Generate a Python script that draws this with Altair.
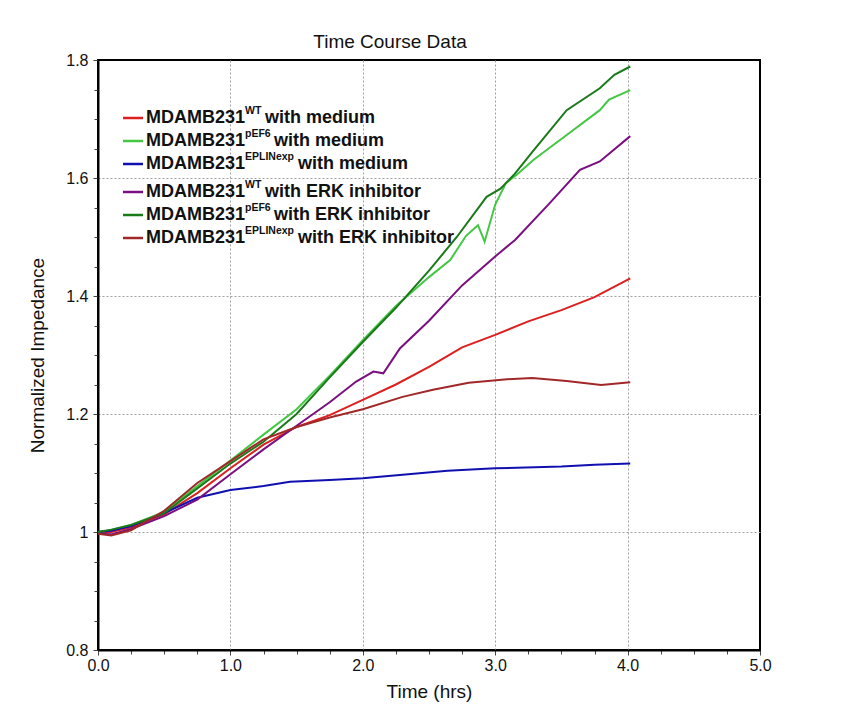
import altair as alt
import pandas as pd

# ---------------- data ----------------
series_names = [
    "MDAMB231 WT with medium",
    "MDAMB231 pEF6 with medium",
    "MDAMB231 EPLINexp with medium",
    "MDAMB231 WT with ERK inhibitor",
    "MDAMB231 pEF6 with ERK inhibitor",
    "MDAMB231 EPLINexp with ERK inhibitor",
]
series_colors = ["#dd1f1f", "#44c744", "#1010b0", "#7a1080", "#1a7a1a", "#a02828"]

t_wt_med = [0, 0.1, 0.25, 0.5, 0.75, 1.0, 1.25, 1.5, 1.75, 2.0, 2.25, 2.5, 2.75, 3.0, 3.25, 3.5, 3.75, 4.02]
v_wt_med = [1.0, 1.0, 1.008, 1.03, 1.066, 1.108, 1.148, 1.178, 1.198, 1.224, 1.25, 1.28, 1.313, 1.334, 1.357, 1.376, 1.398, 1.430]

t_pef_med = [0, 0.1, 0.25, 0.5, 0.75, 1.0, 1.25, 1.5, 1.75, 2.0, 2.25, 2.5, 2.66, 2.78, 2.87, 2.92, 3.0, 3.08, 3.16, 3.29, 3.54, 3.79, 3.86, 4.02]
v_pef_med = [1.0, 1.003, 1.012, 1.034, 1.078, 1.121, 1.165, 1.208, 1.265, 1.325, 1.383, 1.432, 1.461, 1.502, 1.520, 1.492, 1.555, 1.591, 1.605, 1.631, 1.673, 1.715, 1.733, 1.749]

t_epl_med = [0, 0.1, 0.25, 0.5, 0.75, 1.0, 1.25, 1.45, 1.75, 2.0, 2.3, 2.64, 3.0, 3.5, 3.75, 4.02]
v_epl_med = [1.0, 1.002, 1.010, 1.032, 1.058, 1.071, 1.078, 1.085, 1.088, 1.091, 1.097, 1.104, 1.108, 1.111, 1.114, 1.116]

t_wt_erk = [0, 0.1, 0.25, 0.5, 0.75, 1.0, 1.25, 1.5, 1.75, 1.95, 2.08, 2.155, 2.28, 2.5, 2.75, 3.0, 3.15, 3.41, 3.64, 3.79, 4.02]
v_wt_erk = [0.997, 0.996, 1.005, 1.027, 1.055, 1.098, 1.140, 1.180, 1.220, 1.255, 1.272, 1.269, 1.311, 1.358, 1.418, 1.467, 1.495, 1.557, 1.614, 1.628, 1.671]

t_pef_erk = [0, 0.1, 0.25, 0.5, 0.75, 1.0, 1.25, 1.5, 1.75, 2.0, 2.25, 2.5, 2.71, 2.935, 3.04, 3.14, 3.29, 3.54, 3.79, 3.9, 4.02]
v_pef_erk = [1.0, 1.004, 1.012, 1.032, 1.074, 1.116, 1.153, 1.200, 1.262, 1.322, 1.380, 1.443, 1.500, 1.568, 1.582, 1.605, 1.647, 1.715, 1.752, 1.775, 1.789]

t_epl_erk = [0, 0.1, 0.25, 0.5, 0.75, 1.0, 1.25, 1.5, 1.75, 2.0, 2.3, 2.53, 2.8, 3.09, 3.28, 3.54, 3.80, 4.02]
v_epl_erk = [0.997, 0.994, 1.003, 1.036, 1.083, 1.120, 1.157, 1.178, 1.194, 1.208, 1.229, 1.241, 1.253, 1.259, 1.261, 1.256, 1.249, 1.254]

x_tick_values = [0, 0.25, 0.5, 0.75, 1, 1.25, 1.5, 1.75, 2, 2.25, 2.5, 2.75, 3, 3.25, 3.5, 3.75, 4, 4.25, 4.5, 4.75, 5]
y_tick_values = [0.8, 0.85, 0.9, 0.95, 1.0, 1.05, 1.1, 1.15, 1.2, 1.25, 1.3, 1.35, 1.4, 1.45, 1.5,
                 1.55, 1.6, 1.65, 1.7, 1.75, 1.8]

legend_base = ["MDAMB231"] * 6
legend_sup = ["WT", "pEF6", "EPLINexp", "WT", "pEF6", "EPLINexp"]
legend_rest = ["with medium"] * 3 + ["with ERK inhibitor"] * 3

# ---------------- build tables ----------------
all_t = [t_wt_med, t_pef_med, t_epl_med, t_wt_erk, t_pef_erk, t_epl_erk]
all_v = [v_wt_med, v_pef_med, v_epl_med, v_wt_erk, v_pef_erk, v_epl_erk]
rows = []
for name, ts, vs in zip(series_names, all_t, all_v):
    for t, v in zip(ts, vs):
        rows.append({"series": name, "t": t, "v": v})
df = pd.DataFrame(rows)

# legend layout (pixel positions inside the plot area)
leg_row_y = [58, 81, 104, 132, 155, 178]
rest_x = {"WT": 167, "pEF6": 176, "EPLINexp": 200}
leg = pd.DataFrame({
    "series": series_names,
    "base": legend_base,
    "sup": legend_sup,
    "rest": legend_rest,
    "ly": leg_row_y,
})
leg["lx0"] = 25
leg["lx1"] = 45
leg["bx"] = 48
leg["sx"] = 147
leg["rx"] = [rest_x[s] for s in legend_sup]
leg["sy"] = leg["ly"] - 7

FONT = "Liberation Sans"
color_scale = alt.Scale(domain=series_names, range=series_colors)

x_major = "abs(datum.value - round(datum.value)) < 0.001"
y_major = "abs(datum.value*10 - round(datum.value*10)) < 0.001 && round(datum.value*10) % 2 === 0"

x_axis = alt.Axis(
    values=x_tick_values,
    title="Time (hrs)",
    labelExpr=f"({x_major}) ? format(datum.value, '.1f') : ''",
    tickSize={"condition": {"test": x_major, "value": 5}, "value": 4},
    gridOpacity={"condition": {"test": f"({x_major}) && datum.value > 0.5 && datum.value < 4.5", "value": 1}, "value": 0},
    grid=True, gridColor="#a0a0a0", gridDash=[2, 2], gridWidth=1,
    domainColor="black", domainWidth=2, tickColor="#444444",
    labelFont=FONT, labelFontSize=16, labelColor="#111111", labelPadding=2,
    titleFont=FONT, titleFontSize=19, titleFontWeight="normal", titleColor="#111111", titlePadding=9,
    labelFlush=False, labelOverlap=False,
)
y_axis = alt.Axis(
    values=y_tick_values,
    title="Normalized Impedance",
    labelExpr=f"({y_major}) ? format(datum.value, '.1~f') : ''",
    tickSize={"condition": {"test": y_major, "value": 5}, "value": 4},
    gridOpacity={"condition": {"test": f"({y_major}) && datum.value > 0.9 && datum.value < 1.7", "value": 1}, "value": 0},
    grid=True, gridColor="#a0a0a0", gridDash=[2, 2], gridWidth=1,
    domainColor="black", domainWidth=2, tickColor="#444444",
    labelFont=FONT, labelFontSize=16, labelColor="#111111", labelPadding=5,
    titleFont=FONT, titleFontSize=19, titleFontWeight="normal", titleColor="#111111", titlePadding=18,
    labelFlush=False, labelOverlap=False,
)

lines = alt.Chart(df).mark_line(strokeWidth=2).encode(
    x=alt.X("t:Q", scale=alt.Scale(domain=[0, 5], nice=False, zero=False), axis=x_axis),
    y=alt.Y("v:Q", scale=alt.Scale(domain=[0.8, 1.8], nice=False, zero=False), axis=y_axis),
    color=alt.Color("series:N", scale=color_scale, legend=None),
    detail="series:N",
    order="t:Q",
)

leg_base = alt.Chart(leg)
leg_lines = leg_base.mark_rule(strokeWidth=2.5).encode(
    x=alt.X("lx0:Q", scale=None, axis=None),
    x2="lx1:Q",
    y=alt.Y("ly:Q", scale=None, axis=None),
    color=alt.Color("series:N", scale=color_scale, legend=None),
)
leg_text1 = leg_base.mark_text(align="left", baseline="middle", font=FONT, fontWeight="bold",
                               fontSize=18, color="#111111").encode(
    x=alt.X("bx:Q", scale=None, axis=None),
    y=alt.Y("ly:Q", scale=None, axis=None),
    text="base:N",
)
leg_text2 = leg_base.mark_text(align="left", baseline="middle", font=FONT, fontWeight="bold",
                               fontSize=10.5, color="#111111").encode(
    x=alt.X("sx:Q", scale=None, axis=None),
    y=alt.Y("sy:Q", scale=None, axis=None),
    text="sup:N",
)
leg_text3 = leg_base.mark_text(align="left", baseline="middle", font=FONT, fontWeight="bold",
                               fontSize=18, color="#111111").encode(
    x=alt.X("rx:Q", scale=None, axis=None),
    y=alt.Y("ly:Q", scale=None, axis=None),
    text="rest:N",
)

chart = alt.layer(lines, leg_lines, leg_text1, leg_text2, leg_text3).resolve_scale(
    x="independent", y="independent"
).properties(
    width=662,
    height=590,
    title=alt.TitleParams("Time Course Data", font=FONT, fontSize=19, fontWeight="normal",
                          color="#111111", anchor="middle", dx=-39, offset=0),
    autosize=alt.AutoSizeParams(type="none"),
    padding={"left": 90, "top": 52, "right": 80, "bottom": 62},
    background="white",
).configure_view(stroke="black", strokeWidth=2)

chart.save("out.html", embed_options={"renderer": "svg", "actions": False})
